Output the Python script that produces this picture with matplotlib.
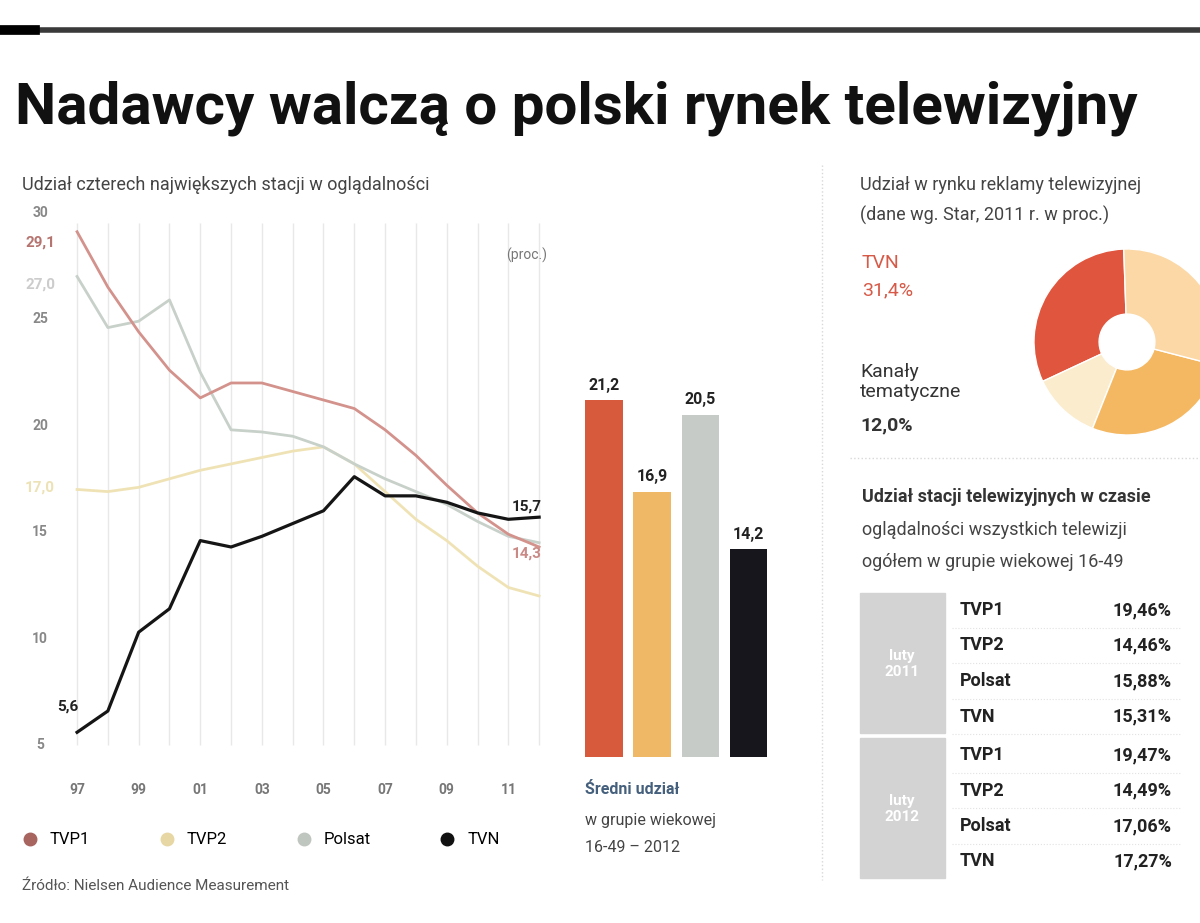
import matplotlib.pyplot as plt
from matplotlib.lines import Line2D
import numpy as np

W, H = 1200, 923
NARROW = ['Roboto', 'DejaVu Sans']

# %% Dane

lata = np.arange(1997, 2013)
etykiety_x = ['97', '99', '01', '03', '05', '07', '09', '11']
lata_x = [1997, 1999, 2001, 2003, 2005, 2007, 2009, 2011]
ticki_y = [5, 10, 15, 20, 25, 30]

tvp1 = [29.1, 26.5, 24.4, 22.6, 21.3, 22.0, 22.0, 21.6, 21.2, 20.8, 19.8, 18.6, 17.2, 15.9, 14.9, 14.3]
tvp2 = [17.0, 16.9, 17.1, 17.5, 17.9, 18.2, 18.5, 18.8, 19.0, 18.2, 16.9, 15.6, 14.6, 13.4, 12.4, 12.0]
polsat = [27.0, 24.6, 24.9, 25.9, 22.5, 19.8, 19.7, 19.5, 19.0, 18.2, 17.5, 16.9, 16.3, 15.5, 14.8, 14.5]
tvn = [5.6, 6.6, 10.3, 11.4, 14.6, 14.3, 14.8, 15.4, 16.0, 17.6, 16.7, 16.7, 16.4, 15.9, 15.6, 15.7]

stacje = ['TVP1', 'TVP2', 'Polsat', 'TVN']
slupki = [21.2, 16.9, 20.5, 14.2]

reklama_nazwy = ['TVN', 'Kanały\ntematyczne', 'Polsat', 'TVP']
reklama = [31.4, 12.0, 27.0, 29.6]

tab_okresy = ['luty\n2011', 'luty\n2012']
tab_stacje = ['TVP1', 'TVP2', 'Polsat', 'TVN']
tab_2011 = [19.46, 14.46, 15.88, 15.31]
tab_2012 = [19.47, 14.49, 17.06, 17.27]

kol_linie = ['#d3928c', '#efe3b6', '#c8d0ca', '#151515']
kol_leg = ['#a8645f', '#e6d7a4', '#bfc5bf', '#111111']
kol_slupki = ['#d85a3c', '#efb866', '#c6cbc7', '#17161d']
kol_reklama = ['#e0553d', '#fbeccd', '#f5b862', '#fbd8a6']


def box(l, t, r, b):
    return [l / W, 1 - b / H, (r - l) / W, (b - t) / H]


def fx(x):
    return x / W


def fy(y):
    return 1 - y / H


fmt = lambda v: ('%.1f' % v).replace('.', ',')

fig = plt.figure(figsize=(12, 9.23), dpi=100)

# %% Naglowek

fig.add_artist(Line2D([0, 1], [fy(30), fy(30)], color='#3a3a3a', lw=4))
fig.add_artist(Line2D([0, fx(35)], [fy(30), fy(30)], color='#000000', lw=7))
fig.text(fx(15), fy(108), 'Nadawcy walczą o polski rynek telewizyjny', family=NARROW,
         fontsize=42, weight='bold', va='center', ha='left', color='#111111')
fig.text(fx(22), fy(185), 'Udział czterech największych stacji w oglądalności',
         family=NARROW, fontsize=13, va='center', color='#444444')

# separator
fig.add_artist(Line2D([fx(822), fx(822)], [fy(165), fy(880)], color='#d8d8d8', lw=1, ls=':'))

# %% Wykres liniowy

ax = fig.add_axes(box(25, 200, 565, 770))
ax.set_xlim(1995.31, 2012.84)
ax.set_ylim(3.83, 30.59)
ax.axis('off')

ax.vlines(lata, ticki_y[0], ticki_y[-1] - 0.5, color='#e8e8e8', lw=1, zorder=0)
for t in ticki_y:
    ax.text(0.028, t, str(t), transform=ax.get_yaxis_transform(), ha='center', va='center',
            fontsize=10, color='#888888', weight='bold', family=NARROW)
for yr, lab in zip(lata_x, etykiety_x):
    ax.text(yr, -0.035, lab, transform=ax.get_xaxis_transform(), ha='center', va='center',
            fontsize=10, color='#777777', weight='bold', family=NARROW)

ax.plot(lata, tvp2, color=kol_linie[1], lw=2, zorder=2)
ax.plot(lata, polsat, color=kol_linie[2], lw=2, zorder=3)
ax.plot(lata, tvp1, color=kol_linie[0], lw=2, zorder=4)
ax.plot(lata, tvn, color=kol_linie[3], lw=2.3, zorder=5)

ax.text(0.028, tvp1[0] - 0.5, fmt(tvp1[0]), transform=ax.get_yaxis_transform(), ha='center',
        va='center', fontsize=11, weight='bold', color='#b5746f', family=NARROW)
ax.text(0.028, polsat[0] - 0.4, fmt(polsat[0]), transform=ax.get_yaxis_transform(), ha='center',
        va='center', fontsize=11, weight='bold', color='#cccccc', family=NARROW)
ax.text(0.028, tvp2[0] + 0.1, fmt(tvp2[0]), transform=ax.get_yaxis_transform(), ha='center',
        va='center', fontsize=11, weight='bold', color='#ece2b6', family=NARROW)
ax.text(lata[0] - 0.3, tvn[0] + 1.2, fmt(tvn[0]), ha='center', va='center', fontsize=11,
        weight='bold', color='#222222', family=NARROW)
ax.text(lata[-1] - 0.4, tvn[-1] + 0.5, fmt(tvn[-1]), ha='center', va='center', fontsize=11,
        weight='bold', color='#222222', family=NARROW)
ax.text(lata[-1] - 0.4, tvp1[-1] - 0.3, fmt(tvp1[-1]), ha='center', va='center', fontsize=11,
        weight='bold', color='#c98a86', family=NARROW)
ax.text(2011.6, 28.0, '(proc.)', ha='center', va='center', fontsize=10, color='#777777',
        family=NARROW)

# %% Slupki

axb = fig.add_axes(box(575, 200, 775, 770))
axb.set_ylim(3.83, 30.59)
axb.set_xlim(-0.6, 3.55)
axb.axis('off')
dol = 4.44
axb.bar(range(4), [v - dol for v in slupki], bottom=dol, width=0.78, color=kol_slupki)
for i, v in enumerate(slupki):
    axb.text(i, v + 0.35, fmt(v), ha='center', va='bottom', fontsize=11.5, weight='bold',
             color='#222222', family=NARROW)
fig.text(fx(585), fy(790), 'Średni udział', fontsize=11.5, weight='bold', color='#45607d',
         family=NARROW, va='center')
fig.text(fx(585), fy(820), 'w grupie wiekowej', fontsize=11.5, color='#444444',
         family=NARROW, va='center')
fig.text(fx(585), fy(848), '16-49 – 2012', fontsize=11.5, color='#444444',
         family=NARROW, va='center')

# %% Legenda i zrodlo

uchwyty = [Line2D([], [], marker='o', ls='', color=c, markersize=9) for c in kol_leg]
fig.legend(uchwyty, stacje, loc='center left', bbox_to_anchor=(fx(-2), fy(840)), ncol=4,
           frameon=False, handletextpad=0.2, columnspacing=3.6,
           prop={'family': NARROW, 'size': 12})
fig.text(fx(22), fy(886), 'Źródło: Nielsen Audience Measurement', fontsize=11,
         color='#555555', family=NARROW, va='center')

# %% Reklama - donut

fig.text(fx(860), fy(185), 'Udział w rynku reklamy telewizyjnej', fontsize=13,
         color='#444444', family=NARROW, va='center')
fig.text(fx(860), fy(215), '(dane wg. Star, 2011 r. w proc.)', fontsize=13,
         color='#444444', family=NARROW, va='center')

axp = fig.add_axes(box(1034, 249, 1220, 435))
axp.pie(reklama, colors=kol_reklama, startangle=92, counterclock=True,
        wedgeprops=dict(width=0.7, edgecolor='white', linewidth=1))
axp.set_xlim(-1, 1)
axp.set_ylim(-1, 1)
axp.set_aspect('equal')

fig.text(fx(862), fy(263), reklama_nazwy[0], fontsize=14, color='#d65a47',
         family=NARROW, va='center')
fig.text(fx(862), fy(290), fmt(reklama[0]) + '%', fontsize=14, color='#d65a47',
         family=NARROW, va='center')
fig.text(fx(860), fy(382), reklama_nazwy[1], fontsize=14, color='#333333',
         family=NARROW, va='center', linespacing=1.1)
fig.text(fx(860), fy(425), fmt(reklama[1]) + '%', fontsize=14, color='#333333',
         weight='bold', family=NARROW, va='center')

fig.add_artist(Line2D([fx(850), 1], [fy(458), fy(458)], color='#d8d8d8', lw=1, ls=':'))

# %% Tabela

fig.text(fx(862), fy(497), 'Udział stacji telewizyjnych w czasie',
         fontsize=13, color='#333333', family=NARROW, va='center', weight='bold')
fig.text(fx(862), fy(530), 'oglądalności wszystkich telewizji',
         fontsize=13, color='#444444', family=NARROW, va='center')
fig.text(fx(862), fy(562), 'ogółem w grupie wiekowej 16-49',
         fontsize=13, color='#444444', family=NARROW, va='center')

wiersz0 = 610
dy = 35.5
for g, (okres, wart) in enumerate(zip(tab_okresy, [tab_2011, tab_2012])):
    gora = wiersz0 - 17 + g * 4 * dy + g * 3
    fig.add_artist(plt.Rectangle((fx(860), fy(gora + 4 * dy - 2)), fx(85),
                                 (4 * dy - 2) / H, color='#d3d3d3', transform=fig.transFigure))
    fig.text(fx(902), fy(gora + 2 * dy), okres, fontsize=11, color='white', ha='center',
             va='center', weight='bold', family=NARROW)
    for i, (n, v) in enumerate(zip(tab_stacje, wart)):
        y = wiersz0 + (g * 4 + i) * dy + g * 3
        fig.text(fx(960), fy(y), n, fontsize=13, color='#222222', family=NARROW,
                 va='center', weight='bold')
        fig.text(fx(1172), fy(y), ('%.2f' % v).replace('.', ',') + '%', fontsize=13,
                 color='#222222', family=NARROW, va='center', ha='right', weight='bold')
        if not (g == 1 and i == 3):
            fig.add_artist(Line2D([fx(952), fx(1180)], [fy(y + dy / 2), fy(y + dy / 2)],
                                  color='#e2e2e2', lw=0.8, ls=':'))

fig.savefig('out.png', dpi=100)
